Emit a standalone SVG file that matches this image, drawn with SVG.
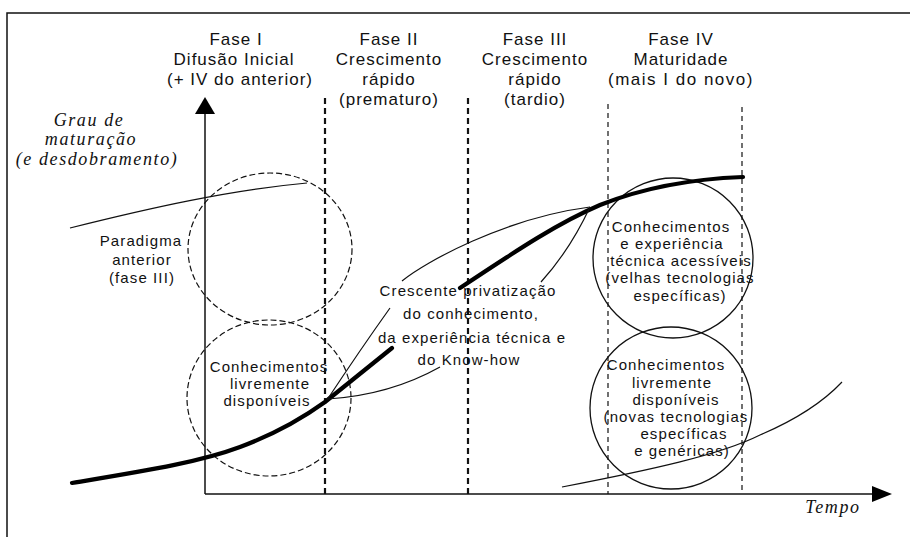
<svg xmlns="http://www.w3.org/2000/svg" width="910" height="537" viewBox="0 0 910 537">
<defs>
<style>
.hdr{font-family:"Liberation Sans",Arial,sans-serif;font-size:17px;letter-spacing:1px;fill:#111;text-anchor:middle}
.sm{font-family:"Liberation Sans",Arial,sans-serif;font-size:15px;letter-spacing:1.1px;fill:#111;text-anchor:middle}
.it{font-family:"Liberation Serif","Times New Roman",serif;font-style:italic;font-size:18px;letter-spacing:1.6px;fill:#111;text-anchor:middle}
.thin{fill:none;stroke:#111;stroke-width:1.2}
.thick{fill:none;stroke:#000;stroke-width:4.2;stroke-linecap:round}
.dashA{stroke:#111;stroke-width:2.2;stroke-dasharray:6 4}
.dashB{stroke:#111;stroke-width:1.2;stroke-dasharray:5 4}
.dcirc{fill:none;stroke:#111;stroke-width:1.2;stroke-dasharray:6 3}
.scirc{fill:none;stroke:#111;stroke-width:1.3}
.axis{stroke:#111;stroke-width:1.5;fill:none}
</style>
</defs>
<rect width="910" height="537" fill="#fff"/>
<path d="M7,537 V13 H910" class="axis"/>

<g id="axes">
<line x1="205" y1="494" x2="205" y2="110" class="axis"/>
<polygon points="205,97 195,114 215,114" fill="#000"/>
<line x1="205" y1="494" x2="876" y2="494" class="axis"/>
<polygon points="892,494 872,486 872,502" fill="#000"/>
</g>

<g id="phase-lines">
<line x1="325" y1="98" x2="325" y2="494" class="dashA"/>
<line x1="468" y1="98" x2="468" y2="494" class="dashA"/>
<line x1="608" y1="104" x2="608" y2="494" class="dashB"/>
<line x1="742" y1="107" x2="742" y2="494" class="dashB"/>
</g>

<g id="fase1">
<text class="hdr" x="236" y="45">Fase I</text>
<text class="hdr" x="234" y="65">Difusão Inicial</text>
<text class="hdr" x="240" y="85">(+ IV do anterior)</text>
</g>
<g id="fase2">
<text class="hdr" x="389" y="45">Fase II</text>
<text class="hdr" x="389" y="65">Crescimento</text>
<text class="hdr" x="389" y="85">rápido</text>
<text class="hdr" x="389" y="105">(prematuro)</text>
</g>
<g id="fase3">
<text class="hdr" x="535" y="45">Fase III</text>
<text class="hdr" x="535" y="65">Crescimento</text>
<text class="hdr" x="535" y="85">rápido</text>
<text class="hdr" x="535" y="105">(tardio)</text>
</g>
<g id="fase4">
<text class="hdr" x="681" y="45">Fase IV</text>
<text class="hdr" x="681" y="65">Maturidade</text>
<text class="hdr" x="681" y="85" style="letter-spacing:1.5px">(mais I do novo)</text>
</g>

<g id="y-label">
<text class="it" x="89" y="126">Grau de</text>
<text class="it" x="91" y="145">maturação</text>
<text class="it" x="97" y="165">(e desdobramento)</text>
</g>
<g id="x-label">
<text class="it" x="833" y="513">Tempo</text>
</g>

<g id="paradigma-anterior">
<ellipse cx="270" cy="249" rx="82" ry="76" class="dcirc"/>
<text class="sm" x="141" y="246">Paradigma</text>
<text class="sm" x="142" y="265">anterior</text>
<text class="sm" x="142" y="283">(fase III)</text>
</g>

<g id="livres-antigos">
<ellipse cx="269" cy="398" rx="82" ry="78" class="dcirc"/>
<text class="sm" x="269" y="372">Conhecimentos</text>
<text class="sm" x="270" y="389">livremente</text>
<text class="sm" x="267" y="406">disponíveis</text>
</g>

<g id="privatizacao">
<text class="sm" x="468" y="296">Crescente privatização</text>
<text class="sm" x="471" y="319">do conhecimento,</text>
<text class="sm" x="472" y="343">da experiência técnica e</text>
<text class="sm" x="469" y="365">do Know-how</text>
</g>

<g id="acessiveis">
<circle cx="673" cy="258" r="80" class="scirc"/>
<text class="sm" x="671" y="232">Conhecimentos</text>
<text class="sm" x="672" y="249">e experiência</text>
<text class="sm" x="681" y="266">técnica acessíveis</text>
<text class="sm" x="680" y="283">(velhas tecnologias</text>
<text class="sm" x="680" y="301">específicas)</text>
</g>

<g id="livres-novos">
<circle cx="671" cy="408" r="81" class="scirc"/>
<text class="sm" x="666" y="370">Conhecimentos</text>
<text class="sm" x="672" y="388">livremente</text>
<text class="sm" x="676" y="405">disponíveis</text>
<text class="sm" x="676" y="422">(novas tecnologias</text>
<text class="sm" x="684" y="439">específicas</text>
<text class="sm" x="682" y="456">e genéricas)</text>
</g>

<g id="connectors">
<path class="thin" d="M70,228 C150,208 230,190 307,183"/>
<path class="thick" d="M72,483 C150,470 200,462 240,447 C275,434 300,420 325,402 L392,348"/>
<path class="thick" d="M460,288 C520,248 560,222 600,205 C640,189 690,179 743,177"/>
<path class="thin" d="M402,281 C425,262 505,218 590,207"/>
<path class="thin" d="M590,207 Q570,250 541,282"/>
<path class="thin" d="M390,308 Q360,350 327,400"/>
<path class="thin" d="M440,367 Q390,395 328,399"/>
<path class="thin" d="M562,487 C650,470 720,455 760,435 C800,418 825,400 842,382"/>
</g>
</svg>
